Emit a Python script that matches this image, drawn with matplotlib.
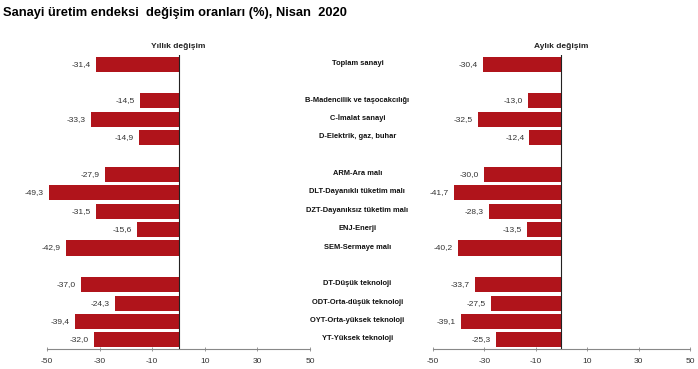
import matplotlib
matplotlib.use('Agg')
import matplotlib.pyplot as plt
import matplotlib.transforms as mtrans
import numpy as np

plt.rcParams['font.family'] = ['Liberation Sans', 'DejaVu Sans']
plt.rcParams['axes.unicode_minus'] = False

# verileri
kategoriler = ['Toplam sanayi', '',
               'B-Madencilik ve taşocakcılığı', 'C-İmalat sanayi', 'D-Elektrik, gaz, buhar', '',
               'ARM-Ara malı', 'DLT-Dayanıklı tüketim malı', 'DZT-Dayanıksız tüketim malı',
               'ENJ-Enerji', 'SEM-Sermaye malı', '',
               'DT-Düşük teknoloji', 'ODT-Orta-düşük teknoloji', 'OYT-Orta-yüksek teknoloji',
               'YT-Yüksek teknoloji']
yillik = [-31.4, None, -14.5, -33.3, -14.9, None, -27.9, -49.3, -31.5, -15.6, -42.9, None,
          -37.0, -24.3, -39.4, -32.0]
aylik = [-30.4, None, -13.0, -32.5, -12.4, None, -30.0, -41.7, -28.3, -13.5, -40.2, None,
         -33.7, -27.5, -39.1, -25.3]
xticks = [-50, -30, -10, 10, 30, 50]

renk = '#B0141B'

fig = plt.figure(figsize=(6.98, 3.69), dpi=100)
ax1 = fig.add_axes([0.0673, 0.054, 0.377, 0.797])
ax2 = fig.add_axes([0.620, 0.054, 0.3685, 0.797])

def panel(ax, veri, baslik):
    y = [i for i, v in enumerate(veri) if v is not None]
    v = [veri[i] for i in y]
    ax.barh(y, v, height=0.82, color=renk, zorder=2)
    for yy, vv in zip(y, v):
        ax.text(vv - 2, yy, ('%.1f' % vv).replace('.', ','), ha='right', va='center',
                fontsize=6, color='#333333')
    ax.set_xlim(-50, 50)
    ax.set_ylim(15.5, -0.5)
    ax.axvline(0, color='#222222', lw=0.8, zorder=3)
    for s in ['top', 'right', 'left']:
        ax.spines[s].set_visible(False)
    ax.spines['bottom'].set_color('#888888')
    ax.spines['bottom'].set_linewidth(0.8)
    ax.set_yticks([])
    ax.set_xticks(xticks)
    ax.tick_params(axis='x', direction='inout', length=3, width=0.6, color='#888888',
                   labelsize=6, labelcolor='#333333', pad=5)
    ax.text(0, -0.75, baslik, ha='center', va='bottom', fontsize=6, fontweight='bold',
            color='#222222')

panel(ax1, yillik, 'Yıllık değişim')
panel(ax2, aylik, 'Aylık değişim')

tr = mtrans.blended_transform_factory(fig.transFigure, ax1.transData)
for i, k in enumerate(kategoriler):
    if k:
        ax1.text(0.512, i - 0.05, k, transform=tr, ha='center', va='center', fontsize=5.4,
                 fontweight='bold', color='#111111', clip_on=False)

fig.text(0.005, 0.965, 'Sanayi üretim endeksi  değişim oranları (%), Nisan  2020',
         fontsize=9.3, fontweight='bold', ha='left', va='center')

plt.savefig('out.png', dpi=100)
